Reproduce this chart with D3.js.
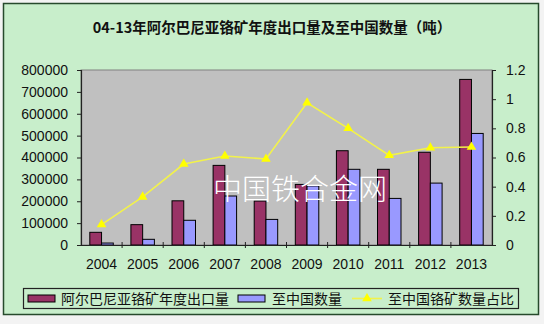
<!DOCTYPE html>
<html><head><meta charset="utf-8">
<script src="https://cdn.jsdelivr.net/npm/d3@7"></script>
<style>
html,body{margin:0;padding:0;background:#f3f3f3;}
svg{display:block;}
text{font-family:"Liberation Sans",Arial,"Noto Sans CJK SC",sans-serif;}
.cjk{font-family:"Noto Sans CJK SC","Liberation Sans",sans-serif;}
</style></head>
<body>
<script>
const title = "04-13年阿尔巴尼亚铬矿年度出口量及至中国数量（吨）";
const years = ["2004","2005","2006","2007","2008","2009","2010","2011","2012","2013"];
const exportQty = [58000, 93000, 202000, 364000, 201000, 277000, 431000, 346000, 424000, 757000];
const chinaQty  = [9000, 26000, 113000, 224000, 117000, 270000, 346000, 213000, 283000, 510000];
const chinaShare = [0.14, 0.33, 0.555, 0.61, 0.59, 0.975, 0.80, 0.615, 0.667, 0.672];
const leftTicks = [0,100000,200000,300000,400000,500000,600000,700000,800000];
const rightTicks = [0,0.2,0.4,0.6,0.8,1,1.2];
const seriesNames = ["阿尔巴尼亚铬矿年度出口量","至中国数量","至中国铬矿数量占比"];
const watermark = "中国铁合金网";

const W=544,H=324;
const svg=d3.select("body").append("svg").attr("width",W).attr("height",H);
svg.append("rect").attr("width",W).attr("height",H).attr("fill","#f3f3f3");
svg.append("rect").attr("x",3.5).attr("y",3.5).attr("width",535).attr("height",311)
  .attr("fill","#c8eecb").attr("stroke","#274a2c").attr("stroke-width",1.5);

svg.append("text").attr("class","cjk").attr("x",272).attr("y",33).attr("text-anchor","middle")
  .attr("font-size",14.5).attr("font-weight","bold").attr("fill","#111").text(title);

const L=81,R=492,T=70,B=245;
const x=d3.scaleBand().domain(years).range([L,R]).padding(0);
const yL=d3.scaleLinear().domain([0,800000]).range([B,T]);
const yR=d3.scaleLinear().domain([0,1.2]).range([B,T]);

svg.append("rect").attr("x",L).attr("y",T).attr("width",R-L).attr("height",B-T)
  .attr("fill","#c0c0c0").attr("stroke","#808080").attr("stroke-width",1);

const bw=x.bandwidth()/3.5;
const g=svg.append("g");
g.selectAll("rect.r").data(years).enter().append("rect").attr("class","r")
  .attr("x",d=>x(d)+x.bandwidth()/2-bw).attr("y",(d,i)=>yL(exportQty[i]))
  .attr("width",bw).attr("height",(d,i)=>B-yL(exportQty[i]))
  .attr("fill","#993366").attr("stroke","#000").attr("stroke-width",1);
g.selectAll("rect.b").data(years).enter().append("rect").attr("class","b")
  .attr("x",d=>x(d)+x.bandwidth()/2).attr("y",(d,i)=>yL(chinaQty[i]))
  .attr("width",bw).attr("height",(d,i)=>B-yL(chinaQty[i]))
  .attr("fill","#9999ff").attr("stroke","#000").attr("stroke-width",1);

// watermark
svg.append("text").attr("class","cjk").attr("x",300).attr("y",200).attr("text-anchor","middle")
  .attr("font-size",29).attr("font-weight",300).attr("fill","#ffffff").text(watermark);

// line
const line=d3.line().x((d,i)=>x(years[i])+x.bandwidth()/2).y(d=>yR(d));
svg.append("path").datum(chinaShare).attr("d",line).attr("fill","none")
  .attr("stroke","#f2f24a").attr("stroke-width",1.6);
const tri=d3.symbol().type(d3.symbolTriangle).size(40);
svg.selectAll("path.m").data(chinaShare).enter().append("path").attr("class","m")
  .attr("d",tri).attr("transform",(d,i)=>`translate(${x(years[i])+x.bandwidth()/2},${yR(d)})`)
  .attr("fill","#ffff00");

// axes
const axL=svg.append("g").attr("transform",`translate(${L},0)`)
  .call(d3.axisLeft(yL).tickValues(leftTicks).tickFormat(d3.format("d")).tickSize(4).tickPadding(9));
const axR=svg.append("g").attr("transform",`translate(${R},0)`)
  .call(d3.axisRight(yR).tickValues(rightTicks).tickFormat(d=>String(d)).tickSize(4).tickPadding(10));
const axB=svg.append("g").attr("transform",`translate(0,${B})`)
  .call(d3.axisBottom(x).tickSize(0).tickPadding(14));
[axL,axR,axB].forEach(a=>{
  a.select(".domain").attr("stroke","#222").attr("stroke-width",1.2);
  a.selectAll(".tick line").attr("stroke","#222");
  a.selectAll("text").attr("font-size",14).attr("fill","#111").attr("font-family","Liberation Sans, Arial, sans-serif");
});
// category boundary ticks
svg.append("g").selectAll("line").data(years.slice(1)).enter().append("line")
  .attr("x1",d=>x(d)).attr("x2",d=>x(d)).attr("y1",B-3).attr("y2",B+3)
  .attr("stroke","#222");

// legend
const lg=svg.append("g");
lg.append("rect").attr("x",23.5).attr("y",288.5).attr("width",495).attr("height",20)
  .attr("fill","none").attr("stroke","#222").attr("stroke-width",1.2);
const ly=298.5;
lg.append("rect").attr("x",28).attr("y",ly-3.5).attr("width",27).attr("height",7)
  .attr("fill","#993366").attr("stroke","#000");
lg.append("text").attr("class","cjk").attr("x",61).attr("y",ly+5).attr("font-size",14).attr("fill","#111").text(seriesNames[0]);
lg.append("rect").attr("x",238).attr("y",ly-3.5).attr("width",27).attr("height",7)
  .attr("fill","#9999ff").attr("stroke","#000");
lg.append("text").attr("class","cjk").attr("x",272).attr("y",ly+5).attr("font-size",14).attr("fill","#111").text(seriesNames[1]);
lg.append("line").attr("x1",352).attr("x2",382).attr("y1",ly).attr("y2",ly).attr("stroke","#f2f24a").attr("stroke-width",1.6);
lg.append("path").attr("d",tri).attr("transform",`translate(367,${ly})`).attr("fill","#ffff00");
lg.append("text").attr("class","cjk").attr("x",388).attr("y",ly+5).attr("font-size",14).attr("fill","#111").text(seriesNames[2]);
</script>
</body></html>
